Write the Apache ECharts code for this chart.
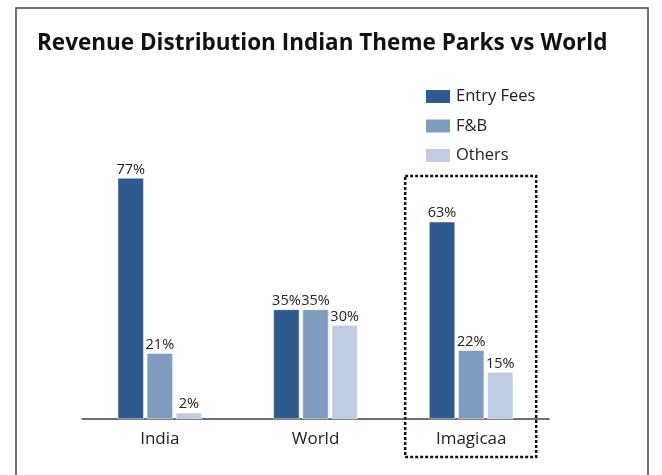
<!DOCTYPE html>
<html><head><meta charset="utf-8">
<script src="https://cdn.jsdelivr.net/npm/echarts@6/dist/echarts.min.js"></script>
<style>html,body{margin:0;padding:0;background:#fff}#c{width:662px;height:475px}</style>
</head><body><div id="c"></div>
<script>
var categories = ['India', 'World', 'Imagicaa'];
var seriesNames = ['Entry Fees', 'F&B', 'Others'];
var entryFees = [77, 35, 63];
var fnb = [21, 35, 22];
var others = [2, 30, 15];
var colors = ['#2F5A8E', '#809CC0', '#BFCDE0'];
var font = '"Open Sans", Lato, sans-serif';

var chart = echarts.init(document.getElementById('c'));
var values = [entryFees, fnb, others];
var series = values.map(function (v, i) {
  return {
    name: seriesNames[i], type: 'bar', data: v, barWidth: 26, barGap: '12%',
    itemStyle: { color: colors[i], borderColor: '#fff', borderWidth: 0.5 },
    label: { show: true, position: 'top', distance: 1, formatter: '{c}%', color: '#222', fontSize: 14.5, fontFamily: font }
  };
});
var outer = { type: 'rect', shape: { x: 16, y: 8, width: 632, height: 600 },
  style: { fill: 'none', stroke: '#444', lineWidth: 1.5 }, silent: true };
chart.setOption({
  animation: false,
  title: { text: 'Revenue Distribution Indian Theme Parks vs World', left: 32, top: 27,
    textStyle: { fontFamily: font, fontWeight: 'bold', fontSize: 22.5, color: '#111' } },
  legend: { orient: 'vertical', left: 424, top: 88, padding: 0, itemWidth: 26, itemHeight: 15, itemGap: 12.5,
    icon: 'rect', textStyle: { fontFamily: font, fontSize: 16.5, color: '#222' } },
  grid: { left: 82, right: 113, top: 106, bottom: 56 },
  xAxis: { type: 'category', data: categories, axisTick: { show: false },
    axisLine: { lineStyle: { color: '#404040', width: 1.5 } },
    axisLabel: { fontFamily: font, fontSize: 17, color: '#222', margin: 12 } },
  yAxis: { type: 'value', min: 0, max: 100, show: false, splitLine: { show: false } },
  series: series,
  graphic: [outer]
});
var cx = chart.convertToPixel({ xAxisIndex: 0 }, 'Imagicaa');
var topY = chart.convertToPixel({ yAxisIndex: 0 }, 77);
chart.setOption({ graphic: [outer,
  { type: 'rect', shape: { x: cx - 66, y: topY - 2, width: 131, height: 281 },
    style: { fill: 'none', stroke: '#111', lineWidth: 2.5, lineDash: [3, 2] }, silent: true }] });
</script></body></html>
